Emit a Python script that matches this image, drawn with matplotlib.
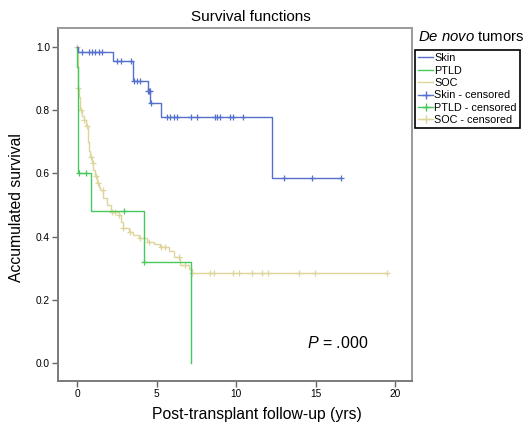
import numpy as np
import matplotlib
matplotlib.use("Agg")
import matplotlib.pyplot as plt
from matplotlib.lines import Line2D

plt.rcParams['font.family'] = ['Liberation Sans', 'DejaVu Sans']
plt.rcParams['mathtext.fontset'] = 'custom'
plt.rcParams['mathtext.it'] = 'Liberation Sans:italic'
plt.rcParams['mathtext.rm'] = 'Liberation Sans'

# ---- data (Kaplan-Meier steps: event times and survival after each drop) ----
skin_times = [0.02, 2.22, 3.50, 4.44, 4.59, 5.26, 12.24]
skin_surv = [0.983, 0.955, 0.892, 0.860, 0.821, 0.779, 0.585]
skin_end = 16.6
skin_cens = [0.3, 0.71, 0.92, 1.13, 1.34, 1.55, 2.5, 2.75, 3.38, 3.6, 3.75, 3.96,
             4.47, 4.52, 4.56, 4.63, 5.64, 5.81, 6.10, 6.27, 7.15, 7.53, 8.68, 8.79,
             9.0, 9.62, 9.79, 10.42, 12.98, 14.8, 16.6]

ptld_times = [0.01, 0.02, 0.06, 0.86, 4.17, 7.15]
ptld_surv = [0.935, 0.77, 0.60, 0.481, 0.321, 0.0]
ptld_end = 7.15
ptld_cens = [0.12, 0.57, 2.96, 4.2]

soc_times = [0.02, 0.04, 0.10, 0.19, 0.30, 0.40, 0.55, 0.65, 0.72, 0.80, 0.92, 1.02,
             1.10, 1.24, 1.35, 1.45, 1.65, 1.85, 2.10, 2.60, 2.75, 2.85, 3.23, 3.50,
             3.86, 4.38, 4.80, 5.22, 5.80, 6.10, 6.48, 7.05, 7.20]
soc_surv = [0.93, 0.87, 0.84, 0.80, 0.78, 0.768, 0.75, 0.70, 0.67, 0.652, 0.632, 0.61,
            0.59, 0.568, 0.555, 0.547, 0.521, 0.50, 0.479, 0.468, 0.445, 0.426, 0.415,
            0.405, 0.395, 0.384, 0.375, 0.368, 0.355, 0.337, 0.31, 0.298, 0.285]
soc_end = 19.48
soc_cens = [0.0, 0.06, 0.25, 0.45, 0.6, 0.85, 1.0, 1.15, 1.3, 1.6, 2.2, 2.35, 2.6, 2.9,
            3.3, 3.95, 4.5, 5.3, 5.5, 6.4, 6.8, 7.25, 8.36, 8.62, 9.83, 10.15, 10.99,
            11.62, 12.03, 13.98, 14.97, 19.48]

groups = ["Skin", "PTLD", "SOC"]
colors = ["#5470cc", "#46c85c", "#ddd59c"]
x_ticks = [0, 5, 10, 15, 20]
y_ticks = [0.0, 0.2, 0.4, 0.6, 0.8, 1.0]


def km_arrays(times, surv, end):
    t = np.concatenate([[0.0], times, [end]])
    s = np.concatenate([[1.0], surv, [surv[-1]]])
    return t, s


def km_at(times, surv, x):
    times = np.asarray(times)
    idx = np.searchsorted(times, x, side='right') - 1
    return np.where(idx < 0, 1.0, np.asarray(surv)[np.clip(idx, 0, None)])


fig = plt.figure(figsize=(5.29, 4.28), dpi=100)
ax = fig.add_axes([0.110, 0.110, 0.669, 0.824])

data = [(skin_times, skin_surv, skin_end, skin_cens),
        (ptld_times, ptld_surv, ptld_end, ptld_cens),
        (soc_times, soc_surv, soc_end, soc_cens)]

# draw SOC first, then PTLD, then Skin on top
for i in [2, 1, 0]:
    tt, ss, end, cens = data[i]
    t, s = km_arrays(tt, ss, end)
    ax.step(t, s, where='post', color=colors[i], lw=1.0, zorder=2 + (2 - i))
    cy = km_at(tt, ss, np.asarray(cens))
    ax.plot(cens, cy, linestyle='none', marker='+', ms=4.5, mew=0.9,
            color=colors[i], zorder=3 + (2 - i))

ax.set_xlim(-1.2, 21.07)
ax.set_ylim(-0.056, 1.058)
ax.set_xticks(x_ticks)
ax.set_xticklabels([str(v) for v in x_ticks])
ax.set_yticks(y_ticks)
ax.set_yticklabels([f"{v:.1f}" for v in y_ticks])
ax.tick_params(direction='out', length=4, width=1.0, color='#666666',
               labelsize=7.3, pad=2)
for name, sp in ax.spines.items():
    sp.set_color('#7a7a7a' if name in ('left', 'bottom') else '#9a9a9a')
    sp.set_linewidth(1.4)

fig.text(338 / 529, 1 - 343 / 428, "$\\it{P}$ = .000", fontsize=11.5,
         ha='center', va='center')

fig.text(251 / 529, 1 - 17 / 428, "Survival functions", fontsize=11,
         ha='center', va='center')
fig.text(257 / 529, 1 - 414 / 428, "Post-transplant follow-up (yrs)",
         fontsize=11.3, ha='center', va='center')
fig.text(17 / 529, 1 - 208 / 428, "Accumulated survival", fontsize=11.3,
         ha='center', va='center', rotation=90)

fig.text(471 / 529, 1 - 37 / 428, "$\\it{De\\ novo}$ tumors", fontsize=10.7,
         ha='center', va='center')

handles = [Line2D([], [], color=c, lw=1.0) for c in colors]
handles += [Line2D([], [], color=c, lw=1.0, marker='+', ms=6, mew=1.0) for c in colors]
labels = groups + [g + " - censored" for g in groups]
leg = fig.legend(handles, labels, loc='upper left',
                 bbox_to_anchor=(415 / 529, 1 - 50 / 428),
                 bbox_transform=fig.transFigure, fontsize=7.8, frameon=True,
                 fancybox=False, framealpha=1, edgecolor='black',
                 borderpad=0.3, handlelength=1.4, handletextpad=0.1,
                 labelspacing=0.22, borderaxespad=0)
leg.get_frame().set_linewidth(1.2)

fig.savefig("out.png", dpi=100)
